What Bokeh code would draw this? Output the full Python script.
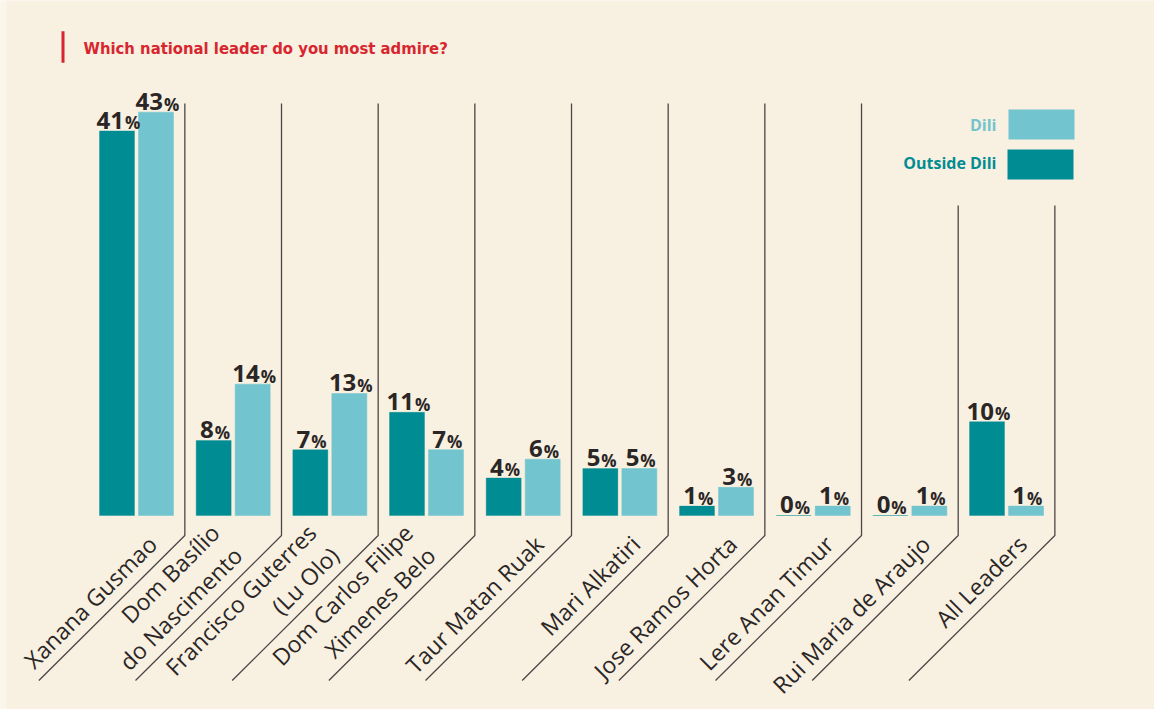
import math
from bokeh.plotting import figure
from bokeh.models import Range1d, Label
from bokeh.core.properties import value
from bokeh.embed import file_html
from bokeh.resources import INLINE

# ---- data ----
leaders = ["Xanana Gusmao", "Dom Basílio\ndo Nascimento", "Francisco Guterres\n(Lu Olo)",
           "Dom Carlos Filipe\nXimenes Belo", "Taur Matan Ruak", "Mari Alkatiri",
           "Jose Ramos Horta", "Lere Anan Timur", "Rui Maria de Araujo", "All Leaders"]
outside_dili = [41, 8, 7, 11, 4, 5, 1, 0, 0, 10]
dili = [43, 14, 13, 7, 6, 5, 3, 1, 1, 1]
series_names = ["Dili", "Outside Dili"]
title_text = "Which national leader do you most admire?"

# ---- style / layout ----
BG = "#F8F0E0"
EDGE = "#FBF6EC"
DARK = "#008C93"
LIGHT = "#72C4CE"
RED = "#D7262F"
INK = "#2A2626"
LINE = "#4E4646"
W, H = 1154, 709
GX = 96.67      # px per group
G0 = 136.0      # x of first group centre
BASE = 515.0    # y of baseline
PY = 9.38       # px per percent
MID = 0.36      # middle-baseline to alphabetic baseline, in em

x0 = -G0 / GX
x1 = x0 + W / GX
y1 = BASE / PY
y0 = y1 - H / PY

def dx(px):
    return px / GX

def dy(px):
    return px / PY

def fx(px):
    return x0 + px / GX

def fy(py):
    return y1 - py / PY

p = figure(width=W, height=H, output_backend="svg", toolbar_location=None,
           x_range=Range1d(x0, x1), y_range=Range1d(y0, y1), min_border=0)
p.axis.visible = False
p.grid.visible = False
p.outline_line_color = None
p.background_fill_color = BG
p.border_fill_color = BG

# lighter page edge on the left
p.quad(left=[fx(0)], right=[fx(6)], top=[fy(0)], bottom=[fy(H)],
       fill_color=EDGE, line_color=None)

n = len(leaders)
idx = list(range(n))
off = dx(19.5)
bw = dx(35)
xd = [i - off for i in idx]
xl = [i + off for i in idx]

p.vbar(x=xd, top=outside_dili, bottom=0, width=bw, fill_color=DARK,
       line_color=DARK, line_alpha=0.35, line_width=1)
p.vbar(x=xl, top=dili, bottom=0, width=bw, fill_color=LIGHT,
       line_color=LIGHT, line_width=0.5)

# value labels: number + smaller %
NUM_FS, PCT_FS = 24, 17
def add_values(xs, vals):
    nums = [str(v) for v in vals]
    offs = [(len(s) * 14 - 14) / 2 for s in nums]
    p.text(x=xs, y=vals, text=nums, x_offset=offs, y_offset=-(2 + MID * NUM_FS),
           text_align="right", text_baseline="middle",
           text_font=value("Open Sans"), text_font_style="bold",
           text_font_size=f"{NUM_FS}px", text_color=INK)
    p.text(x=xs, y=vals, text=["%"] * len(vals), x_offset=[o + 1 for o in offs],
           y_offset=-(2 + MID * PCT_FS),
           text_align="left", text_baseline="middle",
           text_font=value("Open Sans"), text_font_style="bold",
           text_font_size=f"{PCT_FS}px", text_color=INK)

add_values(xd, outside_dili)
add_values(xl, dili)

# dividers
xs_d, ys_d = [], []
for i in idx:
    cx = i + 0.5
    top = fy(103) if i < n - 2 else fy(205)
    yb = fy(535)
    xs_d.append([cx, cx, cx - dx(146)])
    ys_d.append([top, yb, fy(680)])
p.multi_line(xs=xs_d, ys=ys_d, line_color=LINE, line_width=1.3)

# rotated category labels
lx, ly = [], []
s2 = math.sqrt(2)
for i, name in enumerate(leaders):
    d = 42 if "\n" in name else 26
    g = 4
    lx.append(i + 0.5 - dx((d + g) / s2))
    ly.append(fy(535) - dy((d - g) / s2))
p.text(x=lx, y=ly, text=leaders, angle=math.pi / 4, text_align="right",
       text_baseline="bottom", text_font=value("Open Sans"),
       text_font_size="23px", text_color=INK, text_line_height=1.0)

# legend
LEG_FS = 16
p.quad(left=[fx(1008), fx(1007)], right=[fx(1074), fx(1073)],
       top=[fy(109), fy(149)], bottom=[fy(139), fy(179)],
       fill_color=[LIGHT, DARK], line_color=None)
p.text(x=[fx(996), fx(996)], y=[fy(130 - MID * LEG_FS), fy(168.5 - MID * LEG_FS)],
       text=series_names, text_align="right", text_baseline="middle",
       text_font=value("Open Sans"), text_font_style="bold",
       text_font_size=f"{LEG_FS}px", text_color=[LIGHT, DARK])

# title
TITLE_FS = 16.5
p.quad(left=[fx(61)], right=[fx(64)], top=[fy(30.7)], bottom=[fy(62.3)],
       fill_color=RED, line_color=None)
p.add_layout(Label(x=fx(83), y=fy(54.3 - MID * TITLE_FS), text=title_text, text_align="left",
                   text_baseline="middle", text_font="DejaVu Sans Condensed",
                   text_font_style="bold", text_font_size=f"{TITLE_FS}px", text_color=RED))

open("out.html", "w").write(file_html(p, INLINE))
